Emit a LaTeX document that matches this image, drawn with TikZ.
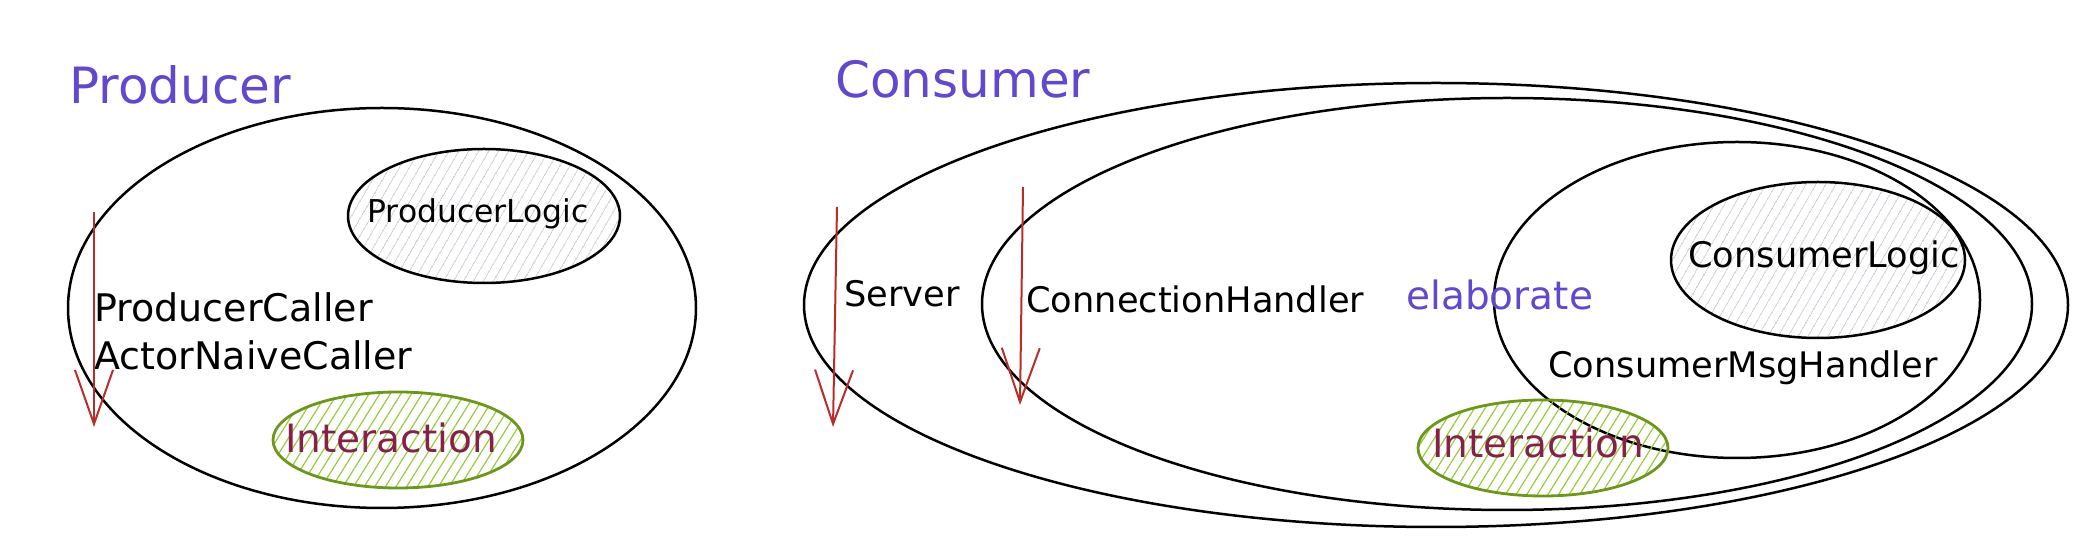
\documentclass[tikz,border=0pt]{standalone}
\usepackage{fontspec}
\setmainfont{DejaVu Sans}
\usetikzlibrary{positioning, arrows.meta, shapes.geometric, patterns.meta}
\definecolor{headviolet}{RGB}{98,72,205}
\definecolor{flowred}{RGB}{185,45,40}
\definecolor{hatchgray}{RGB}{196,201,208}
\definecolor{iaborder}{RGB}{108,150,28}
\definecolor{iahatch}{RGB}{150,205,60}
\definecolor{iatext}{RGB}{135,32,72}

\tikzset{
  group/.style={draw, ellipse, line width=1.25pt, inner sep=0pt},
  logicgroup/.style={group, pattern={Lines[angle=60, distance=4pt, line width=0.5pt]}, pattern color=hatchgray},
  iagroup/.style={draw=iaborder, ellipse, line width=1.4pt, inner sep=0pt,
    pattern={Lines[angle=58, distance=4.5pt, line width=0.6pt]}, pattern color=iahatch},
  heading/.style={anchor=base west, inner sep=0pt, text=headviolet, font=\fontsize{25}{28}\selectfont},
  txt/.style={anchor=base west, inner sep=0pt, font=\fontsize{17.6}{20}\selectfont},
  flow/.style={draw=flowred, line width=1pt, -{Straight Barb[length=27pt, width=19pt, line width=1pt]}}
}

\begin{document}
\begin{tikzpicture}[x=0.5pt, y=-0.5pt]
    \useasboundingbox (0,0) rectangle (2094,560);

    % Producer side
    \node[heading] (producerTitle) at (69,104) {Producer};
    \node[group, minimum width=314pt, minimum height=200pt] (producer) at (382,308) {};
    \node[logicgroup, minimum width=136pt, minimum height=67pt] (producerLogic) at (484,216) {};
    \node[txt, font=\fontsize{15.7}{18}\selectfont] (producerLogicText) at (367,223) {ProducerLogic};
    \node[txt, font=\fontsize{19}{22}\selectfont] (producerCaller) at (94,322) {ProducerCaller};
    \node[txt, font=\fontsize{19}{22}\selectfont] (actorCaller) at ([yshift=-24pt]producerCaller.base west) {ActorNaiveCaller};
    \node[iagroup, minimum width=125pt, minimum height=48pt] (producerIA) at (398,440) {};
    \node[txt, text=iatext, font=\fontsize{19.5}{22}\selectfont] (producerIAText) at (285,453) {Interaction};

    % Consumer side
    \node[heading] (consumerTitle) at (835,98) {Consumer};
    \node[group, minimum width=632pt, minimum height=222pt] (server) at (1436,305) {};
    \node[group, minimum width=525pt, minimum height=206pt] (connHandler) at (1507,304) {};
    \node[group, minimum width=243pt, minimum height=158pt] (msgHandler) at (1737,300) {};
    \node[logicgroup, minimum width=147pt, minimum height=78pt] (consumerLogic) at (1818,260) {};
    \node[iagroup, minimum width=125pt, minimum height=48pt] (consumerIA) at (1543,448) {};

    \node[txt] (serverText) at (844,307) {Server};
    \node[txt] (connHandlerText) at (1026,313) {ConnectionHandler};
    \node[txt, text=headviolet, font=\fontsize{19.5}{22}\selectfont] (elaborate) at (1406,310) {elaborate};
    \node[txt] (consumerLogicText) at (1688,268) {ConsumerLogic};
    \node[txt] (msgHandlerText) at (1548,378) {ConsumerMsgHandler};
    \node[txt, text=iatext, font=\fontsize{19.5}{22}\selectfont] (consumerIAText) at (1432,458) {Interaction};

    % Call flows
    \coordinate (producerFlowTop) at (94,212);
    \coordinate (producerFlowEnd) at (94,427);
    \coordinate (serverFlowTop) at (837,207);
    \coordinate (serverFlowEnd) at (833,427);
    \coordinate (connFlowTop) at (1023,187);
    \coordinate (connFlowEnd) at (1020,405);
    \draw[flow] (producerFlowTop) -- (producerFlowEnd);
    \draw[flow] (serverFlowTop) -- (serverFlowEnd);
    \draw[flow] (connFlowTop) -- (connFlowEnd);
\end{tikzpicture}
\end{document}
